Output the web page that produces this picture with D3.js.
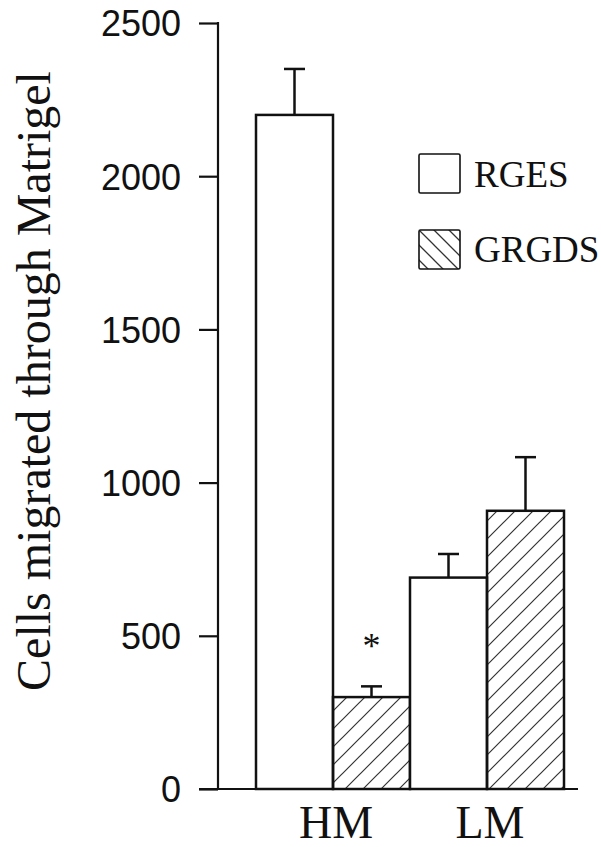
<!DOCTYPE html>
<html>
<head>
<meta charset="utf-8">
<script src="https://cdnjs.cloudflare.com/ajax/libs/d3/7.8.5/d3.min.js"></script>
<style>
  body { margin: 0; background: #fff; }
  svg { display: block; }
  .tick text { font-family: "Liberation Sans", Arial, sans-serif; font-size: 36px; fill: #111; }
  .serif { font-family: "Liberation Serif", "Times New Roman", serif; fill: #111; }
</style>
</head>
<body>
<div id="chart"></div>
<script>
var categories = ['HM', 'LM']
  , series = ['RGES', 'GRGDS']
  , rges = [2200, 690]
  , rgesErr = [150, 77]
  , grgds = [300, 908]
  , grgdsErr = [35, 175]
  , yTicks = [0, 500, 1000, 1500, 2000, 2500]

var width = 601
  , height = 847
  , ink = '#111'

var svg = d3.select('#chart')
  .append('svg')
    .attr('width', width)
    .attr('height', height)

var defs = svg.append('defs')

// bar hatching, "/" lines
defs.append('pattern')
    .attr('id', 'hatch')
    .attr('patternUnits', 'userSpaceOnUse')
    .attr('width', 18)
    .attr('height', 18)
  .append('path')
    .attr('d', 'M-4.5,4.5 L4.5,-4.5 M0,18 L18,0 M13.5,22.5 L22.5,13.5')
    .attr('stroke', '#333')
    .attr('stroke-width', 1.2)

// legend hatching, "\" lines
defs.append('pattern')
    .attr('id', 'hatch-legend')
    .attr('patternUnits', 'userSpaceOnUse')
    .attr('width', 15)
    .attr('height', 15)
    .attr('x', 419)
    .attr('y', 230)
  .append('path')
    .attr('d', 'M-3.75,11.25 L3.75,18.75 M0,0 L15,15 M11.25,-3.75 L18.75,3.75')
    .attr('stroke', '#333')
    .attr('stroke-width', 1.3)

var y = d3.scaleLinear()
  .domain([0, 2500])
  .range([789, 23])

var x0 = d3.scaleBand()
  .domain(categories)
  .range([256, 564])
  .padding(0)

var x1 = d3.scaleBand()
  .domain(series)
  .range([0, x0.bandwidth()])
  .padding(0)

var axisX = 218

// y axis
var yAxis = svg.append('g')
  .attr('transform', 'translate(' + axisX + ',0)')
  .call(d3.axisLeft(y).tickValues(yTicks).tickFormat(d3.format('d')).tickSize(19).tickPadding(18))

yAxis.select('.domain').remove()
yAxis.selectAll('.tick line').attr('stroke', ink).attr('stroke-width', 2.2)
yAxis.selectAll('.tick text').attr('dy', '0.36em')

svg.append('line')
  .attr('x1', axisX).attr('x2', axisX)
  .attr('y1', y(2500) - 1).attr('y2', y(0))
  .attr('stroke', ink)
  .attr('stroke-width', 2.2)

// baseline
svg.append('line')
  .attr('x1', axisX - 19).attr('x2', 578)
  .attr('y1', y(0)).attr('y2', y(0))
  .attr('stroke', ink)
  .attr('stroke-width', 2.2)

var rows = []
categories.forEach(function(c, i) {
  rows.push({ cat: c, ser: 'RGES', value: rges[i], err: rgesErr[i] })
  rows.push({ cat: c, ser: 'GRGDS', value: grgds[i], err: grgdsErr[i] })
})

var bars = svg.append('g').attr('id', 'bars')

bars.selectAll('rect')
  .data(rows)
  .enter().append('rect')
    .attr('x', function(d) { return x0(d.cat) + x1(d.ser) })
    .attr('y', function(d) { return y(d.value) })
    .attr('width', x1.bandwidth())
    .attr('height', function(d) { return y(0) - y(d.value) })
    .attr('fill', function(d) { return d.ser == 'RGES' ? '#fff' : 'url(#hatch)' })
    .attr('stroke', ink)
    .attr('stroke-width', 2.5)

// error bars
var errs = bars.selectAll('g.err')
  .data(rows)
  .enter().append('g')
    .attr('class', 'err')
    .attr('transform', function(d) { return 'translate(' + (x0(d.cat) + x1(d.ser) + x1.bandwidth() / 2) + ',0)' })

errs.append('line')
  .attr('y1', function(d) { return y(d.value) })
  .attr('y2', function(d) { return y(d.value + d.err) })
  .attr('stroke', ink)
  .attr('stroke-width', 2.5)

errs.append('line')
  .attr('x1', -10.5).attr('x2', 10.5)
  .attr('y1', function(d) { return y(d.value + d.err) })
  .attr('y2', function(d) { return y(d.value + d.err) })
  .attr('stroke', ink)
  .attr('stroke-width', 2.5)

// significance mark over HM GRGDS
svg.append('text')
  .attr('class', 'serif')
  .attr('x', x0('HM') + x1('GRGDS') + x1.bandwidth() / 2)
  .attr('y', y(grgds[0] + grgdsErr[0]) - 28)
  .attr('text-anchor', 'middle')
  .style('font-size', '36px')
  .text('*')

// category labels
svg.selectAll('text.cat')
  .data(categories)
  .enter().append('text')
    .attr('class', 'cat serif')
    .attr('x', function(d) { return x0(d) + x0.bandwidth() / 2 + 3 })
    .attr('y', 838)
    .attr('text-anchor', 'middle')
    .style('font-size', '46px')
    .text(function(d) { return d })

// y title
svg.append('text')
  .attr('class', 'serif')
  .attr('transform', 'translate(50,381) rotate(-90)')
  .attr('text-anchor', 'middle')
  .style('font-size', '48px')
  .text('Cells migrated through Matrigel')

// legend
var legend = svg.append('g').attr('id', 'legend')
  , fills = ['#fff', 'url(#hatch-legend)']

legend.selectAll('rect')
  .data(series)
  .enter().append('rect')
    .attr('x', 419)
    .attr('y', function(d, i) { return 154 + i * 76 })
    .attr('width', 41)
    .attr('height', 39)
    .attr('rx', 1.5)
    .attr('fill', function(d, i) { return fills[i] })
    .attr('stroke', ink)
    .attr('stroke-width', 1.6)

legend.selectAll('text')
  .data(series)
  .enter().append('text')
    .attr('class', 'serif')
    .attr('x', 474)
    .attr('y', function(d, i) { return 187 + i * 75 })
    .style('font-size', '37px')
    .text(function(d) { return d })
</script>
</body>
</html>
